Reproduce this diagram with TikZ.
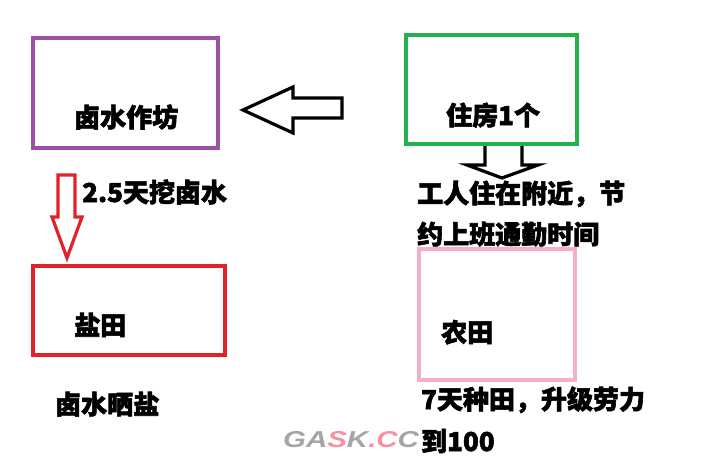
\documentclass[tikz,border=0pt]{standalone}
\usepackage{fontspec}
\newfontfamily\cjk{Noto Sans CJK SC}[FakeBold=2.2]
\newfontfamily\wmfont{Liberation Sans}
\definecolor{boxpurple}{HTML}{9E4FA6}
\definecolor{boxgreen}{HTML}{22B14C}
\definecolor{boxred}{HTML}{E3212B}
\definecolor{boxpink}{HTML}{F4AFC6}
\definecolor{wmgray}{HTML}{A5A5A5}
\definecolor{wmpink}{HTML}{F590A5}
\tikzset{
  box/.style={draw=#1, line width=4pt, inner sep=0pt},
  lbl/.style={anchor=base west, inner sep=0pt, font=\cjk\bfseries\fontsize{26pt}{30pt}\selectfont, text=black},
  blockarrow/.style={draw=#1, line width=3.2pt, line join=miter, fill=white},
}
\begin{document}
\begin{tikzpicture}[x=1pt,y=-1pt]
\useasboundingbox (0,0) rectangle (710,460);
% boxes
\node[box=boxpurple, minimum width=185pt, minimum height=110pt] (fang) at (125.5,93) {};
\node[box=boxgreen, minimum width=171pt, minimum height=109pt] (zhu) at (491.5,89.5) {};
\node[box=boxred, minimum width=192pt, minimum height=89pt] (yan) at (129,310.5) {};
\node[box=boxpink, minimum width=156pt, minimum height=131pt] (nong) at (497,314.5) {};
% box texts
\node[lbl] (tfang) at (74,127) {卤水作坊};
\node[lbl] (tzhu) at (446,125) {住房1个};
\node[lbl] (tyan) at (74,335) {盐田};
\node[lbl] (tnong) at (441,342) {农田};
% free labels
\node[lbl] (t1) at (82,202) {2.5天挖卤水};
\node[lbl] (t2a) at (417,203) {工人住在附近，节};
\node[lbl] (t2b) at (417,244) {约上班通勤时间};
\node[lbl] (t3) at (55,414) {卤水晒盐};
\node[lbl] (t4a) at (421,409) {7天种田，升级劳力};
\node[lbl] (t4b) at (421,451) {到100};
% hollow block arrows
\draw[blockarrow=black] (243,110) -- (293,87) -- (293,98) -- (342,98) -- (342,118) -- (293,118) -- (293,133) -- cycle;
\draw[blockarrow=black] (485,146) -- (485,165) -- (467,165) -- (502,178) -- (538,165) -- (522,165) -- (522,146);
\draw[blockarrow=boxred] (58,175) -- (75,175) -- (75,217) -- (82,217) -- (67,258) -- (52,217) -- (58,217) -- cycle;
% watermark
\node[anchor=base west, inner sep=0pt, font=\wmfont\bfseries\itshape\fontsize{23pt}{26pt}\selectfont] (wm) at (283,447)
  {\scalebox{1.28}[1]{\textcolor{wmgray}{GA}\textcolor{wmpink}{S}\textcolor{wmgray}{K}\textcolor{wmpink}{.C}\textcolor{wmgray}{C}}};
\end{tikzpicture}
\end{document}
